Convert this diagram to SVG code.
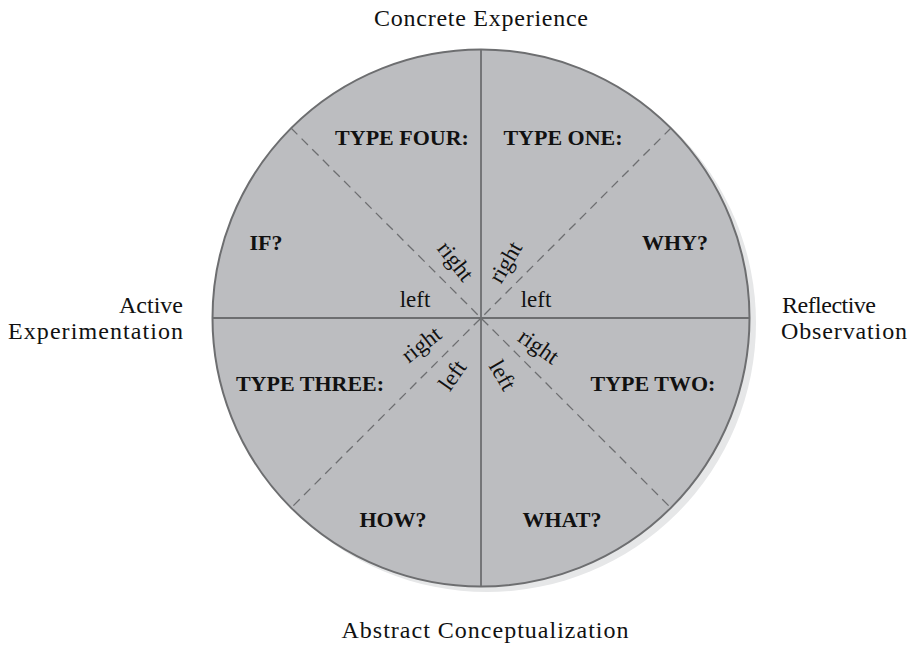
<svg xmlns="http://www.w3.org/2000/svg" width="910" height="646" viewBox="0 0 910 646">
<style>
.lbl{font-family:"Liberation Serif","Times New Roman",serif;font-size:24px;fill:#111}
.b{font-family:"Liberation Serif","Times New Roman",serif;font-size:22px;font-weight:bold;fill:#111}
.s{font-family:"Liberation Serif","Times New Roman",serif;font-size:23px;fill:#111}
.solid{stroke:#6d6e70;stroke-width:1.8;fill:none}
.dash{stroke:#6d6e70;stroke-width:1.3;stroke-dasharray:9 6;fill:none}
</style>
<rect width="910" height="646" fill="#fff"/>
<g id="wheel">
<circle cx="487" cy="323" r="269" fill="#e6e7e8"/>
<circle cx="481" cy="318" r="268.5" fill="#bcbdc0" stroke="#6d6e70" stroke-width="2"/>
</g>
<g id="connectors">
<line class="solid" x1="481" y1="49.5" x2="481" y2="586.5"/>
<line class="solid" x1="212.5" y1="318" x2="749.5" y2="318"/>
<line class="dash" x1="291" y1="128" x2="671" y2="508"/>
<line class="dash" x1="671" y1="128" x2="291" y2="508"/>
</g>
<g id="axis-labels">
<text class="lbl" x="481" y="26" text-anchor="middle" textLength="214">Concrete Experience</text>
<text class="lbl" x="183" y="313" text-anchor="end">Active</text>
<text class="lbl" x="183" y="339" text-anchor="end" textLength="175">Experimentation</text>
<text class="lbl" x="782" y="313" textLength="94">Reflective</text>
<text class="lbl" x="781" y="339" textLength="126">Observation</text>
<text class="lbl" x="485" y="638" text-anchor="middle" textLength="287">Abstract Conceptualization</text>
</g>
<g id="type-four"><text class="b" x="402" y="145" text-anchor="middle">TYPE FOUR:</text></g>
<g id="type-one"><text class="b" x="563" y="145" text-anchor="middle">TYPE ONE:</text></g>
<g id="why"><text class="b" x="675" y="250" text-anchor="middle">WHY?</text></g>
<g id="if"><text class="b" x="266" y="250" text-anchor="middle">IF?</text></g>
<g id="type-three"><text class="b" x="310" y="391" text-anchor="middle">TYPE THREE:</text></g>
<g id="type-two"><text class="b" x="653" y="391" text-anchor="middle">TYPE TWO:</text></g>
<g id="how"><text class="b" x="393" y="527" text-anchor="middle">HOW?</text></g>
<g id="what"><text class="b" x="562" y="527" text-anchor="middle">WHAT?</text></g>
<g id="hemisphere-labels">
<text class="s" x="456" y="261" dy="0.35em" text-anchor="middle" transform="rotate(52 456 261)">right</text>
<text class="s" x="505" y="262" dy="0.35em" text-anchor="middle" transform="rotate(-60 505 262)">right</text>
<text class="s" x="415" y="307" text-anchor="middle">left</text>
<text class="s" x="536" y="307" text-anchor="middle">left</text>
<text class="s" x="421" y="344" dy="0.35em" text-anchor="middle" transform="rotate(-38 421 344)">right</text>
<text class="s" x="452" y="375" dy="0.35em" text-anchor="middle" transform="rotate(-55 452 375)">left</text>
<text class="s" x="539" y="346" dy="0.35em" text-anchor="middle" transform="rotate(35 539 346)">right</text>
<text class="s" x="503" y="375" dy="0.35em" text-anchor="middle" transform="rotate(60 503 375)">left</text>
</g>
</svg>
